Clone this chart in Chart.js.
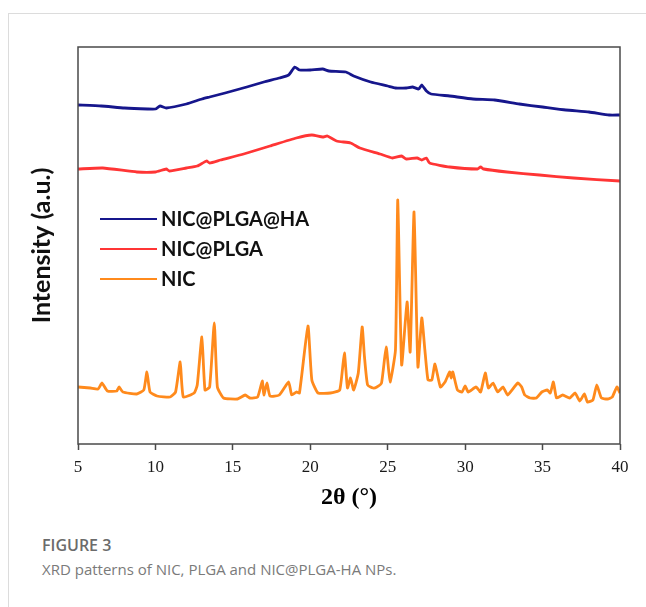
<!DOCTYPE html>
<html>
<head>
<meta charset="utf-8">
<script src="https://cdn.jsdelivr.net/npm/chart.js@4.4.1/dist/chart.umd.min.js"></script>
<style>
  html, body { margin: 0; padding: 0; background: #fff; }
  #page { position: relative; width: 646px; height: 607px; overflow: hidden; }
  #frame { position: absolute; left: 8px; top: 13px; right: 0; bottom: 0;
           border-top: 1px solid #dcdcdc; border-left: 1px solid #dcdcdc; }
  #chart { position: absolute; left: 0; top: 0; }
  .cap1 { position: absolute; left: 42px; top: 534px; font: 600 16px "Open Sans", sans-serif; color: #6b6b6b; }
  .cap2 { position: absolute; left: 42px; top: 559px; font: 15px "Open Sans", sans-serif; color: #7a7a7a; }
</style>
</head>
<body>
<div id="page">
  <div id="frame"></div>
  <canvas id="chart" width="646" height="520"></canvas>
  <div class="cap1">FIGURE 3</div>
  <div class="cap2">XRD patterns of NIC, PLGA and NIC@PLGA-HA NPs.</div>
</div>
<script>
// 2θ positions and stacked intensities (a.u., offset)
const haTheta = [5.0, 6.5, 8.0, 9.5, 10.0, 10.3, 10.7, 12.0, 13.0, 13.5, 14.5, 15.9, 17.0, 18.0, 18.6, 19.0, 19.3, 20.0, 20.8, 21.2,
                 22.3, 22.8, 23.9, 25.0, 25.5, 26.2, 26.6, 27.0, 27.2, 27.5, 27.8, 29.0, 30.5, 31.9, 33.5, 35.0, 36.5, 38.0, 39.3, 40.0];
const haIntensity = [339, 338, 336, 335, 335, 338, 336, 340, 345, 347, 351, 357, 362, 366, 369, 377, 374, 374, 375, 373,
                     372, 368, 362, 358, 356, 356, 357, 355, 359, 353, 350, 348, 345, 344, 340, 337, 334, 332, 329, 329];

const plgaTheta = [5.0, 6.6, 8.8, 10.0, 10.7, 10.9, 12.0, 12.7, 13.3, 13.5, 14.2, 15.7, 17.4, 19.1, 20.1, 20.8, 21.1, 21.7,
                   22.6, 23.2, 24.5, 25.3, 25.9, 26.2, 26.9, 27.2, 27.5, 27.7, 29.0, 30.8, 31.0, 31.2, 32.7, 34.8, 37.0, 40.0];
const plgaIntensity = [275, 276, 272, 272, 275, 273, 276, 278, 283, 281, 284, 290, 298, 306, 309, 307, 308, 303,
                       301, 296, 290, 286, 288, 285, 286, 284, 286, 281, 277, 275, 277, 275, 272, 269, 266, 263];

const nicTheta = [5.0, 5.8, 6.3, 6.55, 6.9, 7.5, 7.65, 7.9, 8.8, 9.25, 9.45, 9.65, 10.1, 10.95, 11.3, 11.6, 11.8, 12.5, 12.7,
                  13.0, 13.2, 13.5, 13.8, 14.0, 14.4, 15.3, 15.8, 16.1, 16.6, 16.9, 17.0, 17.2, 17.4, 18.0, 18.6, 18.8,
                  19.1, 19.3, 19.85, 20.1, 20.5, 21.3, 21.9, 22.2, 22.4, 22.6, 22.8, 23.1, 23.35, 23.5, 23.7, 24.05,
                  24.3, 24.6, 24.9, 25.15, 25.5, 25.65, 25.9, 26.25, 26.45, 26.7, 26.95, 27.2, 27.4, 27.6, 27.85, 28.05,
                  28.4, 28.7, 29.0, 29.1, 29.2, 29.5, 29.8, 30.0, 30.2, 30.7, 31.0, 31.3, 31.5, 31.8, 32.1, 32.45, 32.75,
                  33.4, 33.65, 33.85, 34.2, 34.6, 34.95, 35.3, 35.5, 35.7, 35.9, 36.3, 36.75, 37.1, 37.4, 37.7, 37.9,
                  38.25, 38.5, 38.8, 39.2, 39.5, 39.8, 40.0];
const nicIntensity = [57, 56, 55, 61, 53, 53, 57, 52, 50, 54, 72, 52, 48, 47, 52, 82, 47, 51, 59,
                      107, 54, 57, 121, 57, 46, 45, 49, 46, 47, 63, 49, 61, 48, 49, 62, 49,
                      52, 51, 118, 64, 51, 51, 54, 91, 56, 66, 54, 71, 117, 87, 59, 56,
                      57, 61, 97, 62, 94, 244, 79, 142, 92, 232, 77, 126, 94, 64, 64, 80,
                      57, 62, 72, 66, 72, 54, 52, 58, 52, 57, 52, 71, 56, 61, 52, 57, 49,
                      61, 57, 49, 46, 46, 52, 54, 51, 62, 46, 49, 46, 51, 43, 50, 42,
                      44, 59, 46, 45, 47, 57, 51];

const seriesLabels = ['NIC@PLGA@HA', 'NIC@PLGA', 'NIC'];
const seriesColors = ['#16168c', '#ff3535', '#ff8a1c'];
const xTicks = [5, 10, 15, 20, 25, 30, 35, 40];

const toPoints = (xs, ys) => xs.map((x, i) => ({ x: x, y: ys[i] }));

// box around the plot + legend sitting inside the plot area
const framePlugin = {
  id: 'frameAndLegend',
  afterDraw(chart) {
    const { ctx, chartArea: a } = chart;
    ctx.save();
    ctx.strokeStyle = '#4a4a4a';
    ctx.lineWidth = 1.5;
    ctx.strokeRect(a.left, a.top, a.right - a.left, a.bottom - a.top);

    ctx.font = 'bold 20px Lato, sans-serif';
    ctx.textBaseline = 'middle';
    chart.data.datasets.forEach((ds, i) => {
      const y = 219 + i * 30;
      ctx.strokeStyle = ds.borderColor;
      ctx.lineWidth = 2.2;
      ctx.beginPath();
      ctx.moveTo(100, y);
      ctx.lineTo(157, y);
      ctx.stroke();
      ctx.fillStyle = '#111';
      ctx.fillText(ds.label, 161, y + 1);
    });
    ctx.restore();
  }
};

new Chart(document.getElementById('chart'), {
  type: 'line',
  data: {
    datasets: [
      { label: seriesLabels[0], data: toPoints(haTheta, haIntensity), borderColor: seriesColors[0] },
      { label: seriesLabels[1], data: toPoints(plgaTheta, plgaIntensity), borderColor: seriesColors[1] },
      { label: seriesLabels[2], data: toPoints(nicTheta, nicIntensity), borderColor: seriesColors[2] }
    ].map(d => Object.assign(d, { borderWidth: 2.8, pointRadius: 0, tension: 0.15, fill: false }))
  },
  options: {
    responsive: false,
    animation: false,
    devicePixelRatio: 1,
    layout: { padding: { top: 47, right: 26, left: 0, bottom: 0 } },
    plugins: { legend: { display: false }, tooltip: { enabled: false } },
    scales: {
      x: {
        type: 'linear',
        min: 5,
        max: 40,
        afterFit: s => { s.height = 76; },
        afterBuildTicks: s => { s.ticks = xTicks.map(v => ({ value: v })); },
        grid: { drawOnChartArea: false, drawTicks: true, tickLength: 6, color: '#4a4a4a', tickWidth: 1.5 },
        border: { display: false },
        ticks: { color: '#1a1a1a', padding: 7, maxRotation: 0, font: { family: 'Liberation Serif', size: 17 } },
        title: { display: true, text: '2θ (°)', color: '#000', padding: { bottom: 8 },
                 font: { family: 'Liberation Serif', size: 24, weight: 'bold' } }
      },
      y: {
        min: 0,
        max: 397,
        afterFit: s => { s.width = 78; },
        grid: { display: false },
        border: { display: false },
        ticks: { display: false },
        title: { display: true, text: 'Intensity (a.u.)', color: '#111', padding: { top: 27 },
                 font: { family: 'Lato', size: 25, weight: 'bold' } }
      }
    }
  },
  plugins: [framePlugin]
});
</script>
</body>
</html>
